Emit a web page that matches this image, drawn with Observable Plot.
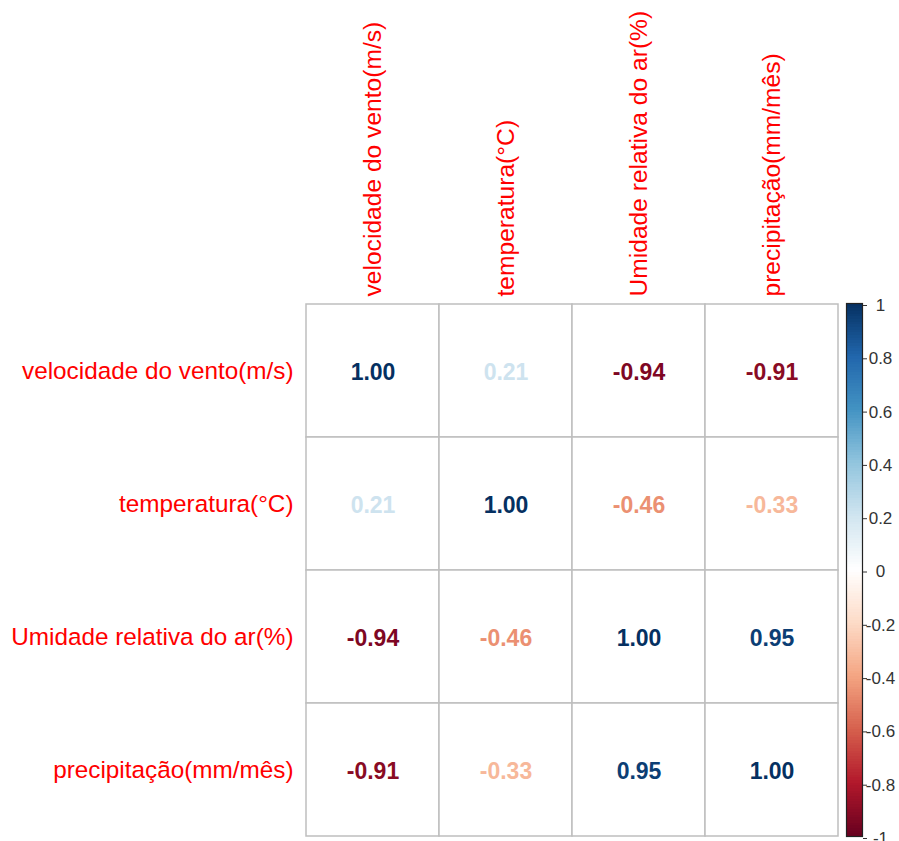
<!DOCTYPE html>
<html>
<head>
<meta charset="utf-8">
<script src="https://cdn.jsdelivr.net/npm/d3@7"></script>
<script src="https://cdn.jsdelivr.net/npm/@observablehq/plot@0.6"></script>
<style>
  html, body { margin: 0; padding: 0; background: #fff; }
  #chart { position: relative; width: 899px; height: 841px; font-family: "Liberation Sans", Arial, sans-serif; }
  #chart svg { position: absolute; left: 0; top: 0; }
</style>
</head>
<body>
<div id="chart"></div>
<script>
const variables = ["velocidade do vento(m/s)", "temperatura(°C)", "Umidade relativa do ar(%)", "precipitação(mm/mês)"];
const corrMatrix = [
  [1.00, 0.21, -0.94, -0.91],
  [0.21, 1.00, -0.46, -0.33],
  [-0.94, -0.46, 1.00, 0.95],
  [-0.91, -0.33, 0.95, 1.00]
];
const legendTicks = [1, 0.8, 0.6, 0.4, 0.2, 0, -0.2, -0.4, -0.6, -0.8, -1];
const paletteStops = [-1, -0.8, -0.6, -0.4, -0.2, 0, 0.2, 0.4, 0.6, 0.8, 1];
const paletteColors = ["#67001F", "#B2182B", "#D6604D", "#F4A582", "#FDDBC7", "#FFFFFF", "#D1E5F0", "#92C5DE", "#4393C3", "#2166AC", "#053061"];

const cells = [];
variables.forEach((row, i) => variables.forEach((col, j) => cells.push({row, col, v: corrMatrix[i][j]})));

const colorScale = {type: "linear", domain: paletteStops, range: paletteColors, interpolate: "rgb"};
const font = "Liberation Sans, Arial, sans-serif";

const main = Plot.plot({
  width: 899, height: 841,
  marginLeft: 305, marginRight: 61, marginTop: 303, marginBottom: 5,
  style: {fontFamily: font, background: "transparent"},
  x: {type: "band", domain: variables, padding: 0, axis: null},
  y: {type: "band", domain: variables, padding: 0, axis: null},
  color: colorScale,
  marks: [
    Plot.cell(cells, {x: "col", y: "row", fill: "white", stroke: "#bebebe", strokeWidth: 1.5}),
    Plot.text(cells, {x: "col", y: "row", text: d => d.v.toFixed(2), fill: "v", fontWeight: "bold", fontSize: 23, dy: 2}),
    Plot.text(variables, {x: d => d, frameAnchor: "top", rotate: -90, textAnchor: "start", lineAnchor: "middle", dy: -7, fill: "#FF0000", fontSize: 24.6}),
    Plot.text(variables, {y: d => d, frameAnchor: "left", textAnchor: "end", dx: -12, fill: "#FF0000", fontSize: 24.3})
  ]
});

const steps = d3.range(200).map(i => -1 + i * 0.01);
const legend = Plot.plot({
  width: 899, height: 841,
  marginLeft: 846, marginRight: 37, marginTop: 303, marginBottom: 5,
  style: {fontFamily: font, background: "transparent", overflow: "visible"},
  x: {domain: [0, 1], axis: null},
  y: {domain: [-1, 1], axis: null},
  color: colorScale,
  marks: [
    Plot.rect(steps, {x1: 0, x2: 1, y1: d => d, y2: d => d + 0.01, fill: d => d + 0.005, shapeRendering: "crispEdges"}),
    Plot.frame({stroke: "#222", strokeWidth: 1.2}),
    Plot.axisY({anchor: "right", ticks: legendTicks, tickSize: 4, tickPadding: 14, textAnchor: "middle", tickFormat: d => String(+d.toFixed(1)), fontSize: 17, fill: "#333", stroke: "#333", dy: 2})
  ]
});

const chart = document.getElementById("chart");
chart.appendChild(main);
chart.appendChild(legend);
</script>
</body>
</html>
